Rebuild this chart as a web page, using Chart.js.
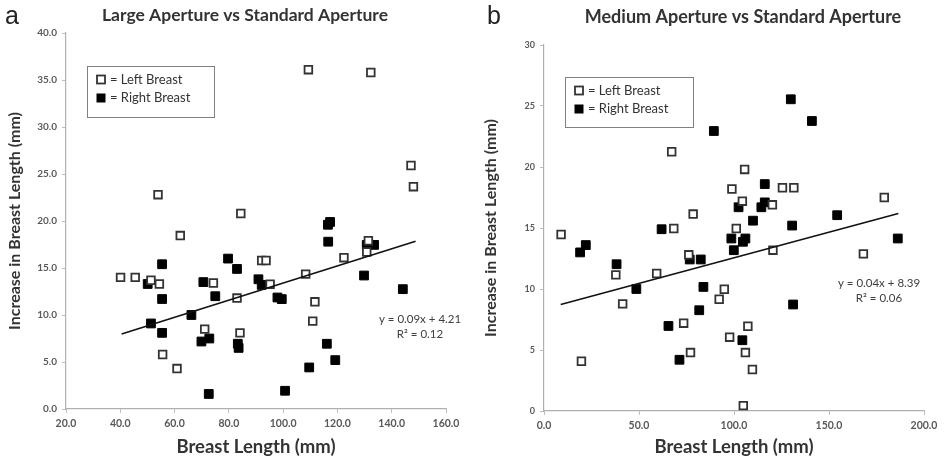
<!DOCTYPE html>
<html>
<head>
<meta charset="utf-8">
<script src="https://cdn.jsdelivr.net/npm/chart.js@4.4.1/dist/chart.umd.min.js"></script>
<style>
  html, body { margin: 0; padding: 0; background: #fff; }
  #wrap { position: relative; width: 951px; height: 458px; }
  #chartA { position: absolute; left: 0; top: 0; }
  #chartB { position: absolute; left: 476px; top: 0; }
</style>
</head>
<body>
<div id="wrap">
  <canvas id="chartA" width="476" height="458"></canvas>
  <canvas id="chartB" width="475" height="458"></canvas>
</div>
<script>
// ---- panel a : Large Aperture vs Standard Aperture ----
const aLeftX  = [40.1, 45.5, 51.3, 54.4, 53.9, 55.6, 60.9, 62.1, 71.1, 74.3, 83.0, 84.1, 84.4, 92.1, 93.7, 95.2, 108.3, 109.3, 110.9, 111.7, 122.4, 130.8, 131.4, 132.3, 147.1, 148.0];
const aLeftY  = [14.0, 14.0, 13.7, 13.3, 22.8, 5.8, 4.3, 18.45, 8.5, 13.4, 11.8, 8.1, 20.8, 15.8, 15.8, 13.28, 14.35, 36.1, 9.35, 11.4, 16.1, 16.7, 17.9, 35.8, 25.9, 23.65];
const aRightX = [50.1, 51.3, 55.4, 55.4, 55.4, 66.2, 69.9, 70.6, 72.6, 72.8, 75.0, 79.7, 83.0, 83.3, 83.6, 90.9, 92.1, 97.9, 99.5, 100.7, 109.6, 116.1, 116.5, 117.3, 116.6, 119.2, 129.8, 130.8, 133.5, 144.1];
const aRightY = [13.3, 9.1, 15.4, 11.7, 8.1, 10.0, 7.18, 13.5, 1.6, 7.5, 12.0, 16.0, 14.9, 6.94, 6.5, 13.8, 13.2, 11.86, 11.69, 1.94, 4.42, 6.94, 19.6, 19.9, 17.8, 5.2, 14.2, 17.46, 17.46, 12.75];
const aTrendX = [40.5, 148.8];
const aTrendY = [7.97, 17.85];
const aXTicks = [20, 40, 60, 80, 100, 120, 140, 160];
const aYTicks = [0, 5, 10, 15, 20, 25, 30, 35, 40];

// ---- panel b : Medium Aperture vs Standard Aperture ----
const bLeftX  = [9.0, 19.7, 37.8, 41.4, 59.3, 67.2, 68.3, 73.5, 76.2, 77.1, 78.5, 92.2, 94.9, 97.7, 98.9, 101.2, 104.4, 104.9, 105.6, 106.0, 107.3, 109.7, 120.2, 120.5, 125.5, 131.5, 168.1, 179.1];
const bLeftY  = [14.47, 4.08, 11.16, 8.78, 11.27, 21.25, 14.96, 7.2, 12.8, 4.79, 16.14, 9.16, 9.98, 6.05, 18.2, 14.96, 17.2, 0.44, 19.8, 4.79, 6.95, 3.4, 16.9, 13.18, 18.3, 18.3, 12.88, 17.5];
const bRightX = [19.0, 22.0, 38.2, 48.6, 61.9, 65.5, 71.3, 76.7, 81.7, 82.5, 83.9, 89.4, 98.6, 99.9, 102.4, 104.4, 104.7, 106.0, 110.0, 114.4, 116.2, 116.2, 129.9, 130.6, 131.1, 141.0, 154.3, 186.2];
const bRightY = [13.0, 13.6, 12.03, 10.0, 14.9, 6.97, 4.2, 12.42, 8.26, 12.42, 10.17, 22.95, 14.14, 13.18, 16.7, 5.8, 13.87, 14.14, 15.6, 16.7, 17.1, 18.6, 25.55, 15.2, 8.73, 23.77, 16.05, 14.14];
const bTrendX = [8.8, 186.5];
const bTrendY = [8.73, 16.19];
const bXTicks = [0, 50, 100, 150, 200];
const bYTicks = [0, 5, 10, 15, 20, 25, 30];

const legendLabels = ['= Left Breast', '= Right Breast'];

const FONT = 'Lato';
const pts = (xs, ys) => xs.map((x, i) => ({ x: x, y: ys[i] }));

// titles, panel letter, legend box and trend equation
const panelDecor = {
  id: 'panelDecor',
  afterDraw(chart, args, o) {
    const ctx = chart.ctx;
    ctx.save();
    ctx.textBaseline = 'middle';

    ctx.fillStyle = '#222';
    ctx.textAlign = 'left';
    ctx.font = '25px "Liberation Sans"';
    ctx.fillText(o.letter, o.letterX, o.letterY);

    ctx.fillStyle = '#333';
    ctx.textAlign = 'center';
    ctx.font = 'bold ' + o.titleSize + 'px ' + FONT;
    ctx.fillText(o.title, o.titleX, o.titleY);

    // legend
    const b = o.box;
    ctx.fillStyle = '#fff';
    ctx.fillRect(b.x, b.y, b.w, b.h);
    ctx.strokeStyle = '#808080';
    ctx.lineWidth = 1;
    ctx.strokeRect(b.x + 0.5, b.y + 0.5, b.w, b.h);
    ctx.font = '13px ' + FONT;
    ctx.textAlign = 'left';
    legendLabels.forEach((txt, i) => {
      const cy = b.y + 13.5 + i * 18.5;
      const cx = b.x + 14;
      if (i === 0) {
        ctx.strokeStyle = '#333';
        ctx.lineWidth = 1.8;
        ctx.strokeRect(cx - 4, cy - 4, 8, 8);
      } else {
        ctx.fillStyle = '#000';
        ctx.fillRect(cx - 4.5, cy - 4.5, 9, 9);
      }
      ctx.fillStyle = '#333';
      ctx.fillText(txt, cx + 9, cy);
    });

    // trendline equation
    ctx.fillStyle = '#404040';
    ctx.textAlign = 'center';
    ctx.font = '11.5px ' + FONT;
    ctx.fillText(o.eq[0], o.eqX, o.eqY);
    ctx.fillText(o.eq[1], o.eqX, o.eqY + 15.5);
    ctx.restore();
  }
};

function makeChart(id, cfg) {
  const tickFont = { family: FONT, size: cfg.tickSize, weight: 'bold' };
  return new Chart(document.getElementById(id), {
    type: 'scatter',
    data: {
      datasets: [
        {
          label: 'Left Breast',
          data: cfg.left,
          pointStyle: 'rect',
          pointRadius: 5.4,
          backgroundColor: '#fff',
          borderColor: '#333',
          borderWidth: 1.8,
          order: 1
        },
        {
          label: 'Right Breast',
          data: cfg.right,
          pointStyle: 'rect',
          pointRadius: 6.2,
          backgroundColor: '#000',
          borderColor: '#000',
          borderWidth: 1,
          order: 2
        },
        {
          type: 'line',
          label: 'Trend',
          data: cfg.trend,
          borderColor: '#111',
          borderWidth: 1.6,
          pointRadius: 0,
          fill: false,
          order: 0
        }
      ]
    },
    options: {
      responsive: false,
      animation: false,
      layout: { autoPadding: false, padding: cfg.padding },
      plugins: {
        legend: { display: false },
        tooltip: { enabled: false },
        panelDecor: cfg.decor
      },
      scales: {
        x: {
          type: 'linear',
          min: cfg.xTicks[0],
          max: cfg.xTicks[cfg.xTicks.length - 1],
          afterBuildTicks: s => { s.ticks = cfg.xTicks.map(v => ({ value: v })); },
          afterFit: s => { s.height = cfg.xAxisH; },
          ticks: {
            autoSkip: false, maxRotation: 0, padding: 4,
            color: '#595959', font: { family: FONT, size: 10.5, weight: 'bold' },
            callback: v => v.toFixed(1)
          },
          grid: { drawOnChartArea: false, tickLength: 4, color: '#bfbfbf' },
          border: { color: '#b0b0b0', width: 1.2 },
          title: { display: true, text: 'Breast Length (mm)', color: '#333', font: { family: FONT, size: 18.5, weight: 'bold' }, padding: { top: 0, bottom: 0 } }
        },
        y: {
          type: 'linear',
          min: cfg.yTicks[0],
          max: cfg.yTicks[cfg.yTicks.length - 1],
          afterBuildTicks: s => { s.ticks = cfg.yTicks.map(v => ({ value: v })); },
          afterFit: s => { s.width = cfg.yAxisW; },
          ticks: {
            autoSkip: false, padding: 5,
            color: '#595959', font: tickFont,
            callback: cfg.yFmt
          },
          grid: { drawOnChartArea: false, tickLength: 4, color: '#bfbfbf' },
          border: { color: '#b0b0b0', width: 1.2 },
          title: { display: true, text: 'Increase in Breast Length (mm)', color: '#333', font: { family: FONT, size: 16, weight: 'bold' }, padding: { top: 5, bottom: 0 } }
        }
      }
    },
    plugins: [panelDecor]
  });
}

makeChart('chartA', {
  left: pts(aLeftX, aLeftY),
  right: pts(aRightX, aRightY),
  trend: pts(aTrendX, aTrendY),
  xTicks: aXTicks,
  yTicks: aYTicks,
  yFmt: v => v.toFixed(1),
  tickSize: 10,
  padding: { top: 33, right: 30, left: 0, bottom: 0 },
  yAxisW: 66,
  xAxisH: 49,
  decor: {
    letter: 'a', letterX: 5, letterY: 17,
    title: 'Large Aperture vs Standard Aperture', titleSize: 17.5, titleX: 245, titleY: 15,
    box: { x: 87, y: 66, w: 127, h: 51 },
    eq: ['y = 0.09x + 4.21', 'R² = 0.12'], eqX: 420, eqY: 319
  }
});

makeChart('chartB', {
  left: pts(bLeftX, bLeftY),
  right: pts(bRightX, bRightY),
  trend: pts(bTrendX, bTrendY),
  xTicks: bXTicks,
  yTicks: bYTicks,
  yFmt: v => String(v),
  tickSize: 9,
  padding: { top: 45, right: 27, left: 0, bottom: 0 },
  yAxisW: 68,
  xAxisH: 47,
  decor: {
    letter: 'b', letterX: 11, letterY: 17,
    title: 'Medium Aperture vs Standard Aperture', titleSize: 18, titleX: 267, titleY: 17,
    box: { x: 89, y: 77, w: 128, h: 50 },
    eq: ['y = 0.04x + 8.39', 'R² = 0.06'], eqX: 403, eqY: 283
  }
});
</script>
</body>
</html>
